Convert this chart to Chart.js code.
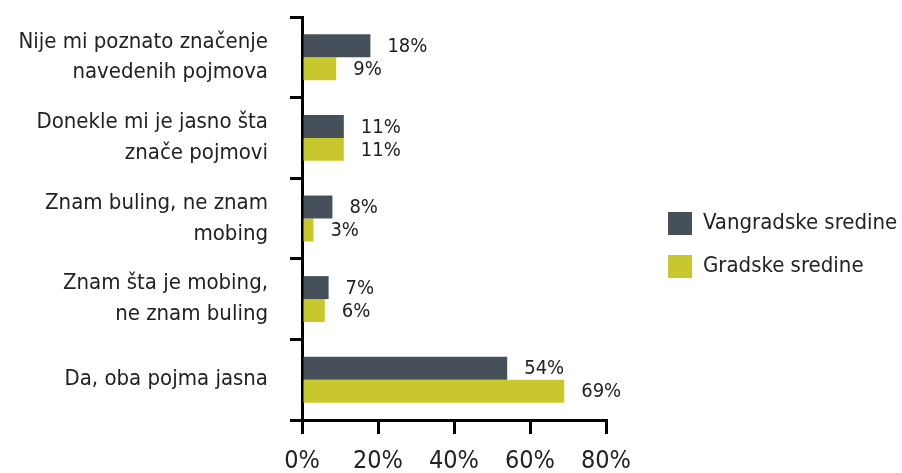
<!DOCTYPE html>
<html>
<head>
<meta charset="utf-8">
<script src="https://cdn.jsdelivr.net/npm/chart.js@4"></script>
<style>
  html, body { margin: 0; padding: 0; background: #fff; }
  #wrap { width: 902px; height: 473px; position: relative; }
</style>
</head>
<body>
<div id="wrap"><canvas id="myChart"></canvas></div>
<script>
var FONT = "'Liberation Sans Narrow', 'DejaVu Sans Condensed', sans-serif";

var categories = [
  ["Nije mi poznato značenje", "navedenih pojmova"],
  ["Donekle mi je jasno šta", "znače pojmovi"],
  ["Znam buling, ne znam", "mobing"],
  ["Znam šta je mobing,", "ne znam buling"],
  ["Da, oba pojma jasna"]
];
var vangradske = [18, 11, 8, 7, 54];
var gradske = [9, 11, 3, 6, 69];
var xTicks = [0, 20, 40, 60, 80];

var darkColor = "#45505a";
var limeColor = "#c8c82e";

// value labels to the right of each bar
var barLabels = {
  id: "barLabels",
  afterDatasetsDraw: function (chart) {
    var ctx = chart.ctx;
    ctx.save();
    ctx.font = "20px " + FONT;
    ctx.fillStyle = "#222";
    ctx.textAlign = "left";
    ctx.textBaseline = "middle";
    chart.data.datasets.forEach(function (ds, i) {
      chart.getDatasetMeta(i).data.forEach(function (bar, j) {
        ctx.fillText(ds.data[j] + "%", bar.x + 17, bar.y + 1);
      });
    });
    ctx.restore();
  }
};

// keep the legend at a fixed spot on the right
var legendSpot = {
  id: "legendSpot",
  afterInit: function (chart) {
    var lg = chart.legend;
    var fit = lg.fit;
    lg.fit = function () {
      fit.call(this);
      this.width = 902 - 668 + 20;
    };
  }
};

new Chart("myChart", {
  type: "bar",
  data: {
    labels: categories,
    datasets: [{
      label: "Vangradske sredine",
      data: vangradske,
      backgroundColor: darkColor,
      categoryPercentage: 0.57,
      barPercentage: 1
    }, {
      label: "Gradske sredine",
      data: gradske,
      backgroundColor: limeColor,
      categoryPercentage: 0.57,
      barPercentage: 1
    }]
  },
  plugins: [barLabels, legendSpot],
  options: {
    indexAxis: "y",
    responsive: true,
    maintainAspectRatio: false,
    animation: false,
    layout: { padding: { top: 17, left: 0, right: 0, bottom: 0 } },
    plugins: {
      tooltip: { enabled: false },
      legend: {
        position: "right",
        labels: {
          boxWidth: 24,
          boxHeight: 23,
          padding: 20,
          color: "#222",
          font: { family: FONT, size: 22 }
        }
      }
    },
    scales: {
      x: {
        min: 0,
        max: 80,
        afterBuildTicks: function (s) {
          s.ticks = xTicks.map(function (v) { return { value: v }; });
        },
        afterFit: function (s) { s.height = 53; s.paddingLeft = 0; s.paddingRight = 0; },
        border: { display: true, color: "#000", width: 3 },
        grid: { drawOnChartArea: false, color: "#000", lineWidth: 3, tickLength: 14 },
        ticks: {
          color: "#222",
          padding: 12,
          font: { family: FONT, size: 25 },
          callback: function (v) { return v + "%"; }
        }
      },
      y: {
        afterFit: function (s) { s.width = 302; s.paddingTop = 0; s.paddingBottom = 0; },
        border: { display: true, color: "#000", width: 3 },
        grid: { drawOnChartArea: false, color: "#000", lineWidth: 3, tickLength: 12, offset: true },
        ticks: {
          color: "#222",
          padding: 22,
          font: { family: FONT, size: 22, lineHeight: 1.4 }
        }
      },
      gap: {
        type: "linear",
        axis: "y",
        position: "right",
        display: true,
        afterFit: function (s) { s.width = 668 - 20 - 606; s.paddingTop = 0; s.paddingBottom = 0; },
        border: { display: false },
        grid: { display: false },
        ticks: { display: false }
      }
    }
  }
});
</script>
</body>
</html>
